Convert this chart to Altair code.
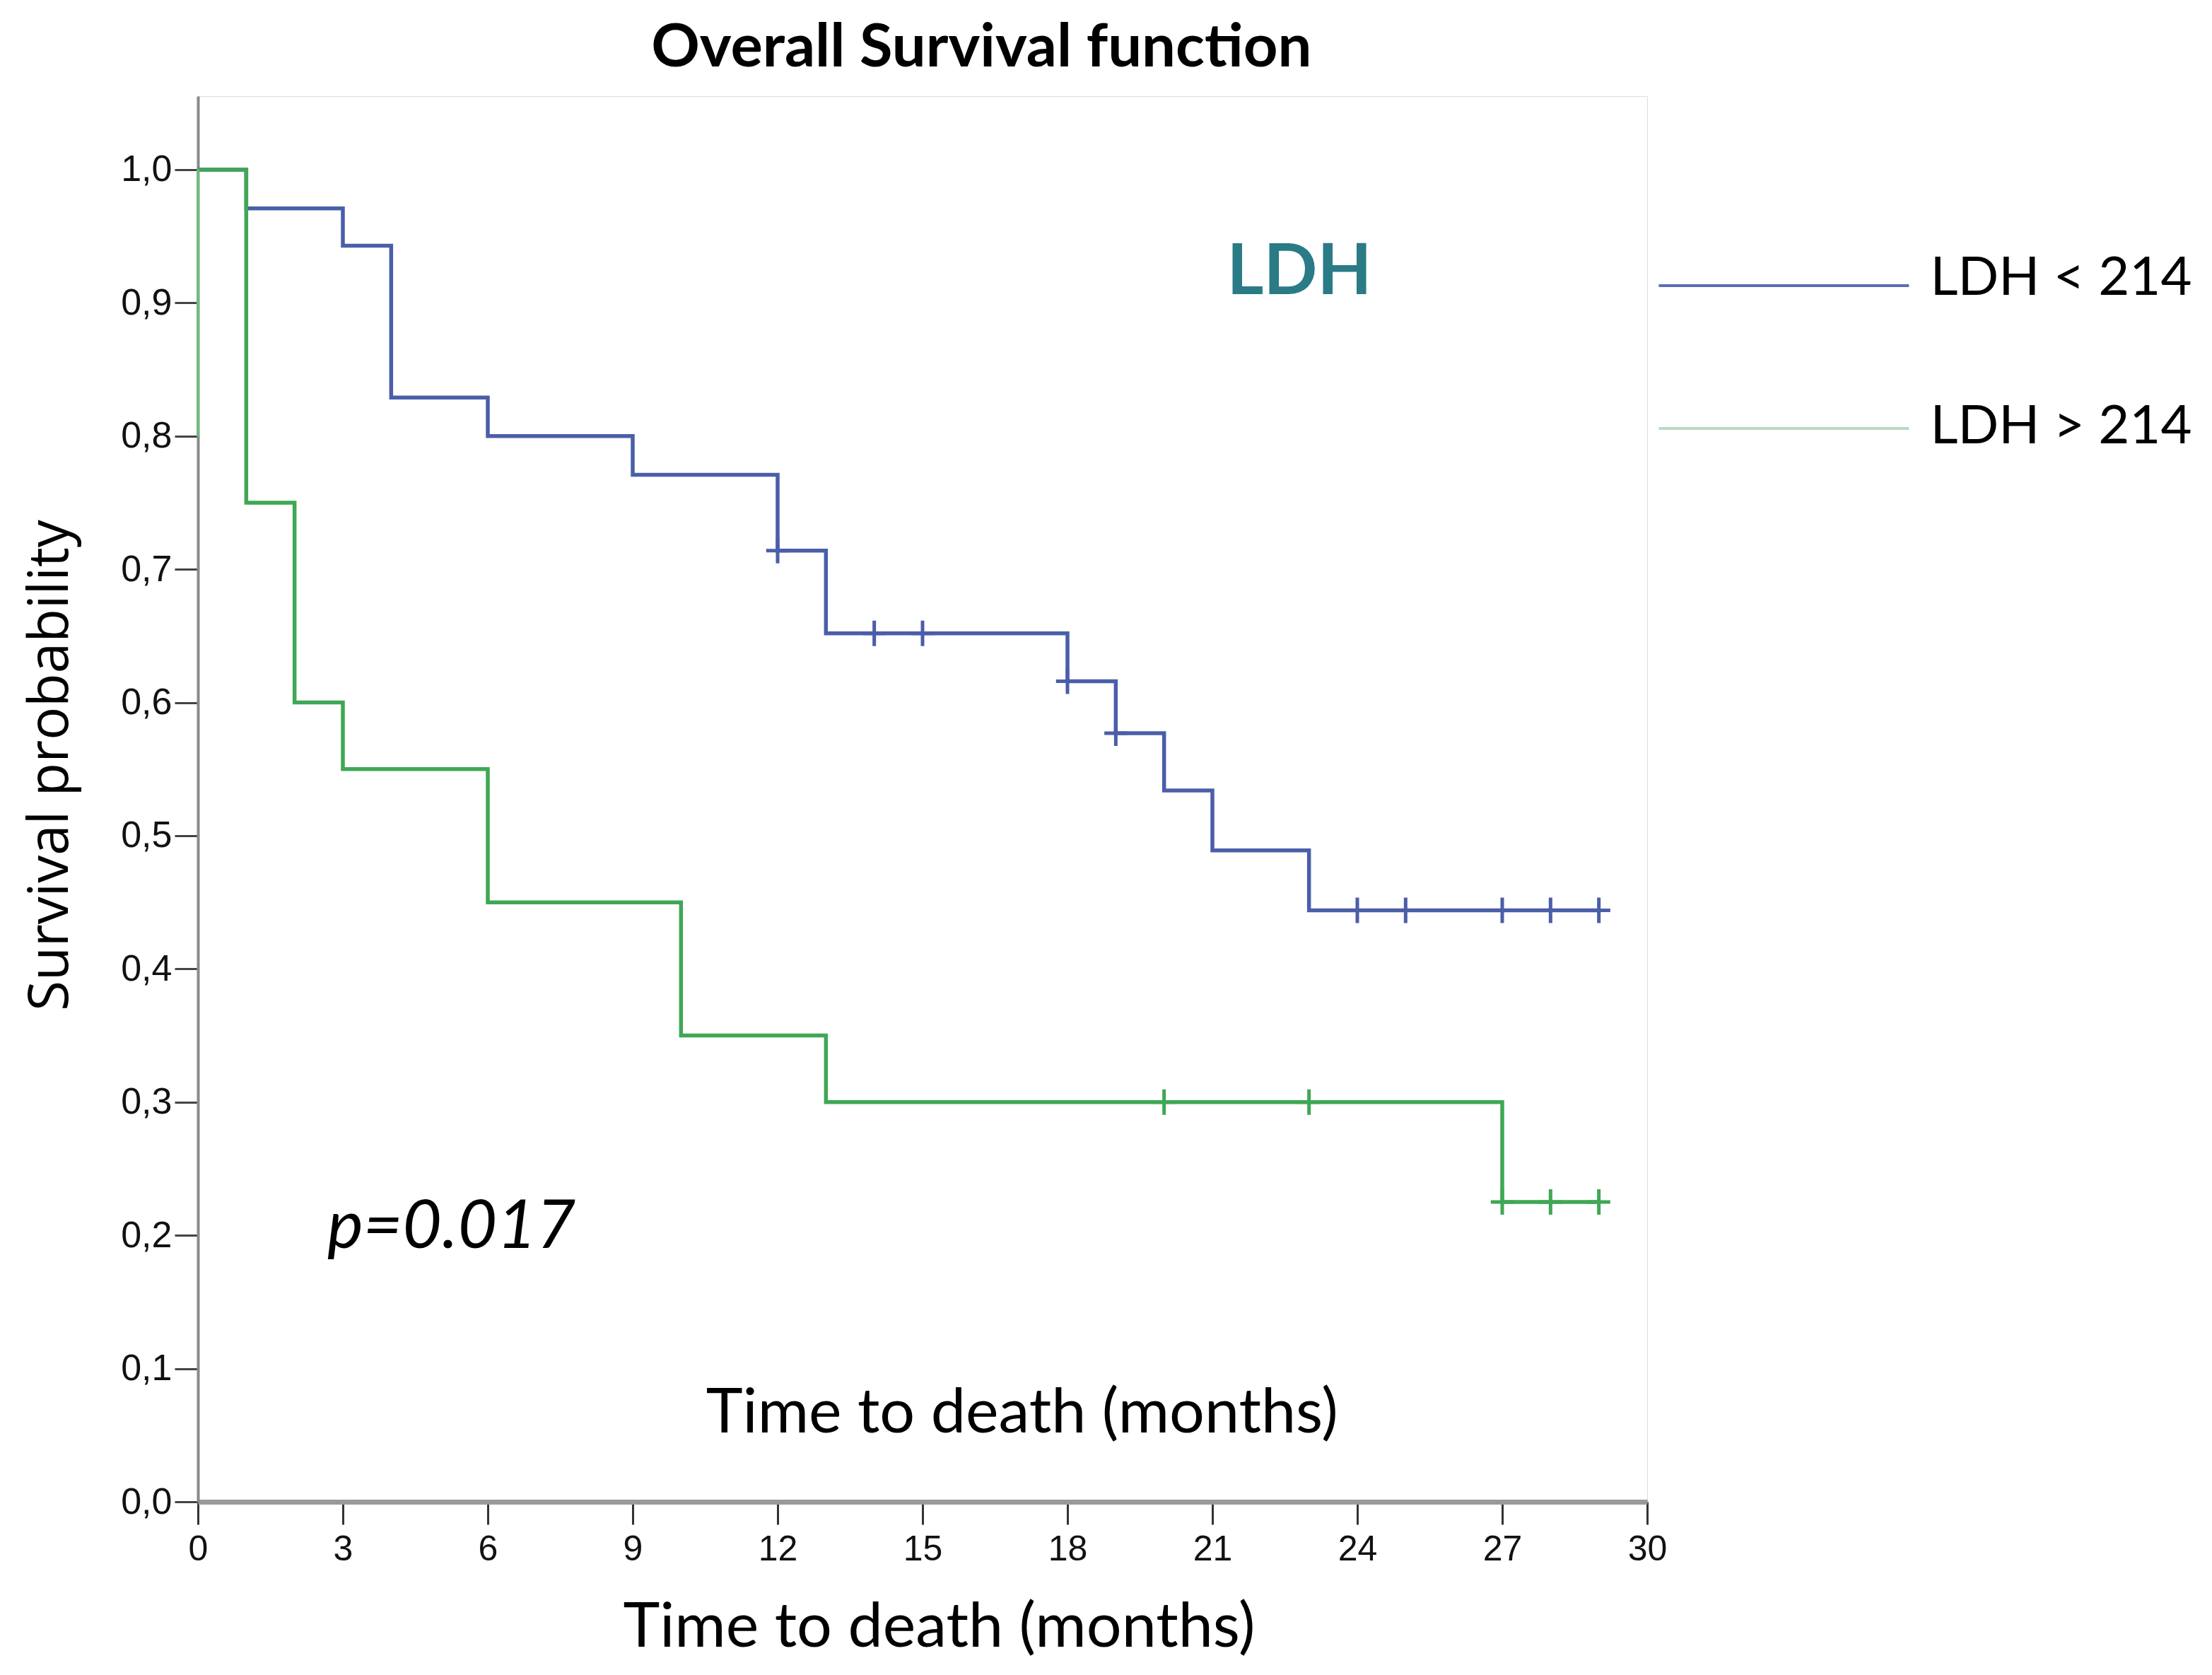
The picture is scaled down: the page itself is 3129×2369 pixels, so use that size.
import altair as alt
import pandas as pd

# ---------------- data ----------------
groups = ["LDH < 214", "LDH > 214"]
group_colors = ["#4a5ea9", "#3fa755"]
legend_line_colors = ["#5b6db4", "#b6dcbf"]

# LDH < 214 step curve (time in months, survival probability)
blue_time = [0, 1, 3, 4, 6, 9, 12, 13, 18, 19, 20, 21, 23, 29]
blue_surv = [1.0, 0.971, 0.943, 0.829, 0.800, 0.771, 0.714, 0.652, 0.616, 0.577, 0.534, 0.489, 0.444, 0.444]
blue_cens_time = [12, 14, 15, 18, 19, 24, 25, 27, 28, 29]
blue_cens_surv = [0.714, 0.652, 0.652, 0.616, 0.577, 0.444, 0.444, 0.444, 0.444, 0.444]

# LDH > 214 step curve
green_time = [0, 1, 2, 3, 6, 10, 13, 27, 29]
green_surv = [1.0, 0.75, 0.60, 0.55, 0.45, 0.35, 0.30, 0.225, 0.225]
green_cens_time = [20, 23, 27, 28, 29]
green_cens_surv = [0.30, 0.30, 0.225, 0.225, 0.225]

x_ticks = [0, 3, 6, 9, 12, 15, 18, 21, 24, 27, 30]
y_ticks = [0.0, 0.1, 0.2, 0.3, 0.4, 0.5, 0.6, 0.7, 0.8, 0.9, 1.0]

title_text = "Overall Survival function"
x_title = "Time to death (months)"
y_title = "Survival probability"
inner_label = "Time to death (months)"
ldh_label = "LDH"
p_label = "p=0.017"

# ---------------- tables ----------------
curves = pd.concat([
    pd.DataFrame({"time": blue_time, "surv": blue_surv, "group": groups[0], "order": range(len(blue_time))}),
    pd.DataFrame({"time": green_time, "surv": green_surv, "group": groups[1], "order": range(len(green_time))}),
])
cens = pd.concat([
    pd.DataFrame({"time": blue_cens_time, "surv": blue_cens_surv, "group": groups[0]}),
    pd.DataFrame({"time": green_cens_time, "surv": green_cens_surv, "group": groups[1]}),
])

X_DOMAIN = [0, 30]
Y_DOMAIN = [0, 1.0552]

color = alt.Color("group:N", scale=alt.Scale(domain=groups, range=group_colors), legend=None)

x_axis = alt.Axis(
    values=x_ticks, format="d", grid=False, labelFont="Liberation Sans", labelFontSize=50,
    labelColor="#111111", labelPadding=10, labelFlush=False, labelOverlap=False,
    tickSize=32, tickWidth=3, tickColor="#333333",
    domainColor="#9a9a9a", domainWidth=7,
    title=x_title, titleFont="Lato", titleFontSize=88, titleFontWeight="normal",
    titleColor="#000000", titleX=1048, titleY=204, titleBaseline="alphabetic", titleAlign="center",
)
y_axis = alt.Axis(
    values=y_ticks, grid=False, labelFont="Liberation Sans", labelFontSize=52,
    labelColor="#111111", labelPadding=4, labelOverlap=False, labelFlush=False,
    labelExpr="replace(format(datum.value, '.1f'), '.', ',')",
    tickSize=33, tickWidth=3, tickColor="#444444",
    domainColor="#8a8a8a", domainWidth=4,
    title=y_title, titleFont="Open Sans", titleFontSize=78, titleFontWeight="normal",
    titleColor="#000000", titleAngle=270, titleX=-185, titleY=946,
    titleBaseline="alphabetic", titleAlign="center",
)

xs = alt.Scale(domain=X_DOMAIN, nice=False, zero=False)
ys = alt.Scale(domain=Y_DOMAIN, nice=False, zero=False)

lines = alt.Chart(curves).mark_line(interpolate="step-after", strokeWidth=5.5).encode(
    x=alt.X("time:Q", scale=xs, axis=x_axis),
    y=alt.Y("surv:Q", scale=ys, axis=y_axis),
    color=color,
    order="order:Q",
)

# little green segment drawn along the axis at t=0
edge = pd.DataFrame({"time": [0], "lo": [0.8], "hi": [1.0]})
edge_rule = alt.Chart(edge).mark_rule(color="#6dbd80", strokeWidth=4).encode(
    x=alt.X("time:Q", scale=xs), y=alt.Y("lo:Q", scale=ys), y2="hi:Q"
)

ticks = alt.Chart(cens).mark_point(
    shape="M-0.9,0H0.9M0,-1V1", size=1296, filled=False, strokeWidth=5, opacity=1
).encode(
    x=alt.X("time:Q", scale=xs), y=alt.Y("surv:Q", scale=ys), color=color
)

# legend (drawn as annotation to the right of the plot)
leg = pd.DataFrame({
    "label": groups,
    "x0": [30.24, 30.24], "x1": [35.42, 35.42],
    "yl": [0.9130, 0.8057], "yt": [0.9183, 0.8068],
    "xt": [35.86, 35.86], "col": legend_line_colors,
})
leg_lines = alt.Chart(leg).mark_rule(strokeWidth=4).encode(
    x=alt.X("x0:Q", scale=xs), x2="x1:Q", y=alt.Y("yl:Q", scale=ys),
    color=alt.Color("col:N", scale=None),
)
leg_text = alt.Chart(leg).mark_text(
    font="Lato", fontSize=76, align="left", baseline="middle", color="#000000"
).encode(x=alt.X("xt:Q", scale=xs), y=alt.Y("yt:Q", scale=ys), text="label:N")

# annotations
ann_title = alt.Chart(pd.DataFrame({"t": [title_text], "x": [16.22], "y": [1.0775]})).mark_text(
    font="Lato", fontSize=85, fontWeight="bold", align="center", baseline="alphabetic", color="#000000"
).encode(x=alt.X("x:Q", scale=xs), y=alt.Y("y:Q", scale=ys), text="t:N")

ann_ldh = alt.Chart(pd.DataFrame({"t": [ldh_label], "x": [22.8], "y": [0.9225]})).mark_text(
    font="Lato", fontSize=100, fontWeight="bold", align="center", baseline="middle", color="#2a7b86"
).encode(x=alt.X("x:Q", scale=xs), y=alt.Y("y:Q", scale=ys), text="t:N")

ann_p = alt.Chart(pd.DataFrame({"t": [p_label], "x": [5.25], "y": [0.206]})).mark_text(
    font="Lato", fontSize=96, fontStyle="italic", align="center", baseline="middle", color="#000000"
).encode(x=alt.X("x:Q", scale=xs), y=alt.Y("y:Q", scale=ys), text="t:N")

ann_inner = alt.Chart(pd.DataFrame({"t": [inner_label], "x": [17.06], "y": [0.0658]})).mark_text(
    font="Lato", fontSize=88, align="center", baseline="middle", color="#000000"
).encode(x=alt.X("x:Q", scale=xs), y=alt.Y("y:Q", scale=ys), text="t:N")

chart = alt.layer(
    lines, edge_rule, ticks, leg_lines, leg_text, ann_title, ann_ldh, ann_p, ann_inner
).properties(
    width=2050, height=1988,
    autosize=alt.AutoSizeParams(type="none"),
    padding={"left": 272, "top": 128, "right": 791, "bottom": 225},
).configure_view(stroke="#bbbbbb", strokeWidth=7).configure(background="white")

chart.save("out.html", embed_options={"renderer": "svg", "actions": False})
